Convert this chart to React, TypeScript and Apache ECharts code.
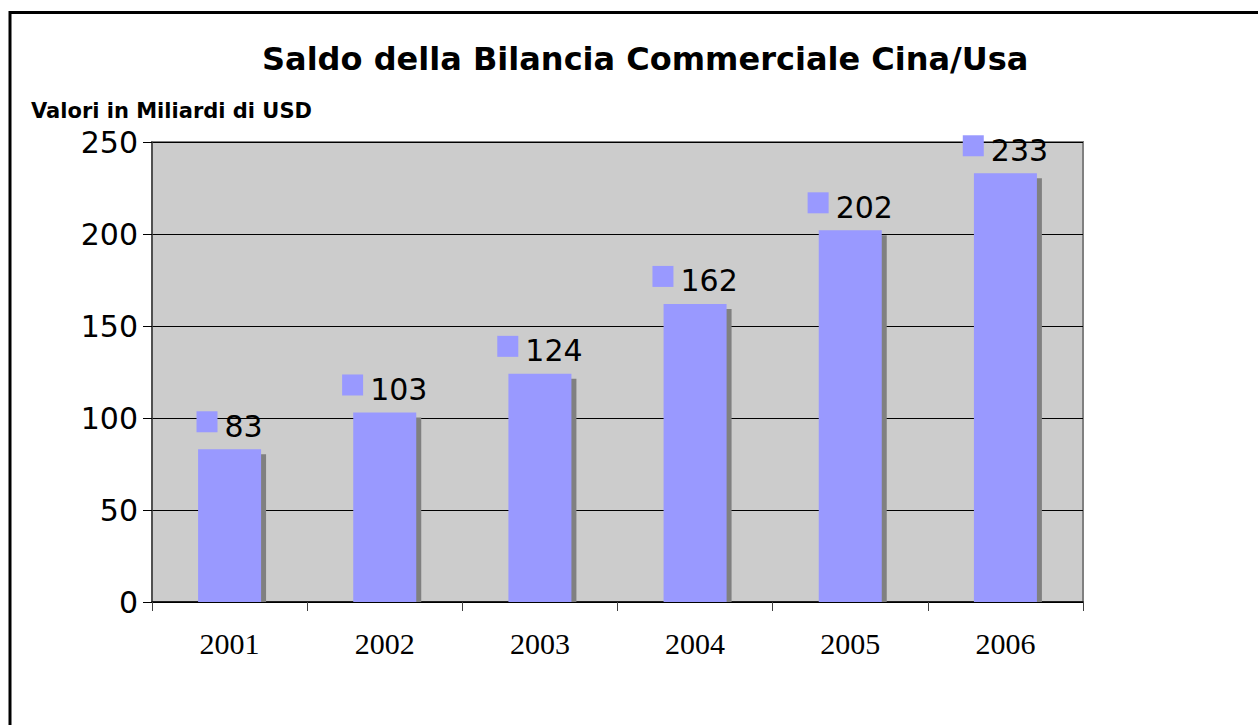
import React, { useEffect, useRef } from "react";
import * as echarts from "echarts";

const title = "Saldo della Bilancia Commerciale Cina/Usa";
const yAxisTitle = "Valori in Miliardi di USD";
const years = ["2001", "2002", "2003", "2004", "2005", "2006"];
const values = [83, 103, 124, 162, 202, 233];
const yTicks = { min: 0, max: 250, interval: 50 };

const BAR_COLOR = "#9999ff";
const SHADOW_COLOR = "#808080";
const BAR_RATIO = 0.406;

export default function App() {
  const ref = useRef<HTMLDivElement>(null);
  useEffect(() => {
    if (!ref.current) return;
    const chart = echarts.init(ref.current, undefined, { renderer: "svg" });
    chart.setOption({
      animation: false,
      backgroundColor: "#ffffff",
      title: {
        text: title,
        left: 262,
        top: 43,
        padding: 0,
        textStyle: { fontFamily: "DejaVu Sans", fontWeight: "bold", fontSize: 32, color: "#000" },
      },
      graphic: [
        { type: "line", shape: { x1: 9, y1: 12.5, x2: 1258, y2: 12.5 }, style: { stroke: "#000", lineWidth: 3 } },
        { type: "line", shape: { x1: 10, y1: 11, x2: 10, y2: 725 }, style: { stroke: "#000", lineWidth: 3 } },
        {
          type: "text",
          left: 31,
          top: 100,
          style: { text: yAxisTitle, font: "bold 21px 'DejaVu Sans'", fill: "#000" },
        },
      ],
      grid: {
        left: 152,
        top: 142,
        width: 931,
        height: 460,
        show: true,
        backgroundColor: "#cccccc",
        borderColor: "#808080",
        borderWidth: 2,
      },
      xAxis: {
        type: "category",
        data: years,
        axisLine: { show: true, lineStyle: { color: "#000", width: 1.5 } },
        axisTick: { show: true, alignWithLabel: false, length: 9, lineStyle: { color: "#404040" } },
        axisLabel: { fontFamily: "Liberation Serif", fontSize: 30, color: "#000", margin: 26 },
        splitLine: { show: false },
      },
      yAxis: {
        type: "value",
        min: yTicks.min,
        max: yTicks.max,
        interval: yTicks.interval,
        axisLine: { show: true, lineStyle: { color: "#404040", width: 1.5 } },
        axisTick: { show: true, length: 9, lineStyle: { color: "#000" } },
        axisLabel: { fontFamily: "DejaVu Sans", fontSize: 30, color: "#000", margin: 14 },
        splitLine: { show: true, lineStyle: { color: "#000", width: 1 } },
      },
      series: [
        {
          type: "custom",
          z: 1,
          data: values.map((v, i) => [i, v]),
          renderItem: (params: any, api: any) => {
            const i = api.value(0);
            const v = api.value(1);
            const top = api.coord([i, v]);
            const base = api.coord([i, 0]);
            const w = api.size([1, 0])[0] * BAR_RATIO;
            return {
              type: "rect",
              shape: { x: top[0] - w / 2 + 5, y: top[1] + 5, width: w, height: base[1] - top[1] - 5 },
              style: { fill: SHADOW_COLOR },
            };
          },
        },
        {
          type: "bar",
          z: 2,
          data: values,
          barWidth: BAR_RATIO * 100 + "%",
          itemStyle: { color: BAR_COLOR },
          label: {
            show: true,
            position: "top",
            distance: 8,
            formatter: (p: any) => "{sq|}{v|" + p.value + "}",
            rich: {
              sq: { width: 21, height: 21, backgroundColor: BAR_COLOR, verticalAlign: "top" },
              v: {
                fontFamily: "DejaVu Sans",
                fontSize: 30,
                color: "#000",
                padding: [0, 0, 0, 7],
                lineHeight: 30,
              },
            },
          },
        },
      ],
    });
    return () => chart.dispose();
  }, []);
  return (
    <div
      ref={ref}
      style={{ position: "fixed", left: 0, top: 0, width: 1258, height: 725 }}
    />
  );
}
